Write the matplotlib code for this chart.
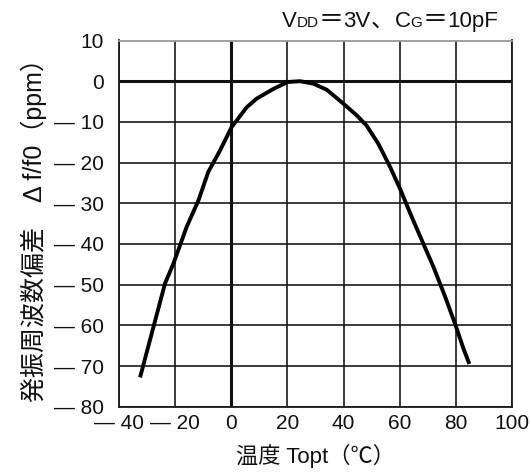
import matplotlib
matplotlib.use("Agg")
import matplotlib.pyplot as plt

plt.rcParams['font.family'] = ['Liberation Sans', 'Noto Sans CJK JP', 'DejaVu Sans']

# Data
temp = [-32.5, -23.6, -20.6, -15.9, -11.7, -8.2, -4.0, 0.1, 5.5, 9.0, 15.0, 20.1,
        24.5, 29.2, 34.0, 39.9, 44.7, 48.2, 52.4, 56.6, 60.1, 64.3, 68.4, 72.0,
        76.2, 79.7, 82.7, 84.8]
dev = [-72.8, -49.7, -44.8, -35.8, -29.3, -22.3, -17.0, -11.3, -6.4, -4.3, -1.9, -0.2,
       0.0, -0.6, -2.1, -5.5, -8.4, -10.9, -15.4, -21.1, -26.4, -33.4, -39.9, -45.6,
       -53.0, -59.6, -65.7, -69.5]

xticks = [-40, -20, 0, 20, 40, 60, 80, 100]
xticklabels = ['— 40', '— 20', '0', '20', '40', '60', '80', '100']
yticks = [10, 0, -10, -20, -30, -40, -50, -60, -70, -80]
yticklabels = ['10', '0', '— 10', '— 20', '— 30', '— 40', '— 50', '— 60', '— 70', '— 80']

W, H = 531, 476
fig = plt.figure(figsize=(W / 100, H / 100), dpi=100)
ax = fig.add_axes([119 / W, 1 - 406.7 / H, (512 - 119) / W, (406.7 - 40.5) / H])

ax.set_xlim(-40, 100)
ax.set_ylim(-80, 10)
ax.set_xticks(xticks)
ax.set_xticklabels(xticklabels)
ax.set_yticks(yticks)
ax.set_yticklabels(yticklabels)
ax.tick_params(length=0, labelsize=15, colors='#111111')
ax.tick_params(axis='y', pad=11)
ax.tick_params(axis='x', pad=5)

ax.grid(True, color='#1a1a1a', linewidth=1.2)
ax.set_axisbelow(True)
for s in ax.spines.values():
    s.set_color('#1a1a1a')
    s.set_linewidth(1.3)
ax.spines['top'].set_color('#999999')

ax.axhline(0, color='#111111', linewidth=2.2, zorder=2)
ax.axvline(0, color='#111111', linewidth=2.2, zorder=2)

ax.plot(temp, dev, color='black', linewidth=2.8, zorder=3, solid_capstyle='butt')

ax.set_xlabel('温度 Topt（℃）', fontsize=16, labelpad=8, color='#111111')
ax.set_ylabel('発振周波数偏差　Δ f/f0（ppm）', fontsize=18, labelpad=5, color='#111111')

# Condition note with small-cap subscripts
cjk = ['Noto Sans CJK JP', 'DejaVu Sans']
lat = ['Liberation Sans', 'Noto Sans CJK JP']
parts = [('V', 16, lat), ('DD', 11, lat), ('＝', 18, cjk), ('3V', 16, lat),
         ('、', 17, cjk), ('C', 16, lat), ('G', 11, lat), ('＝', 18, cjk),
         ('10pF', 16, lat)]
fig.canvas.draw()
r = fig.canvas.get_renderer()
texts = []
for s, fs, fam in parts:
    t = fig.text(0, 0, s, fontsize=fs, family=fam, color='#111111', ha='left', va='baseline')
    texts.append(t)
widths = [t.get_window_extent(r).width for t in texts]
total = sum(widths)
x = 498 - total
for t, w in zip(texts, widths):
    t.set_position((x / W, 1 - 27 / H))
    x += w

fig.savefig('out.png', dpi=100)
